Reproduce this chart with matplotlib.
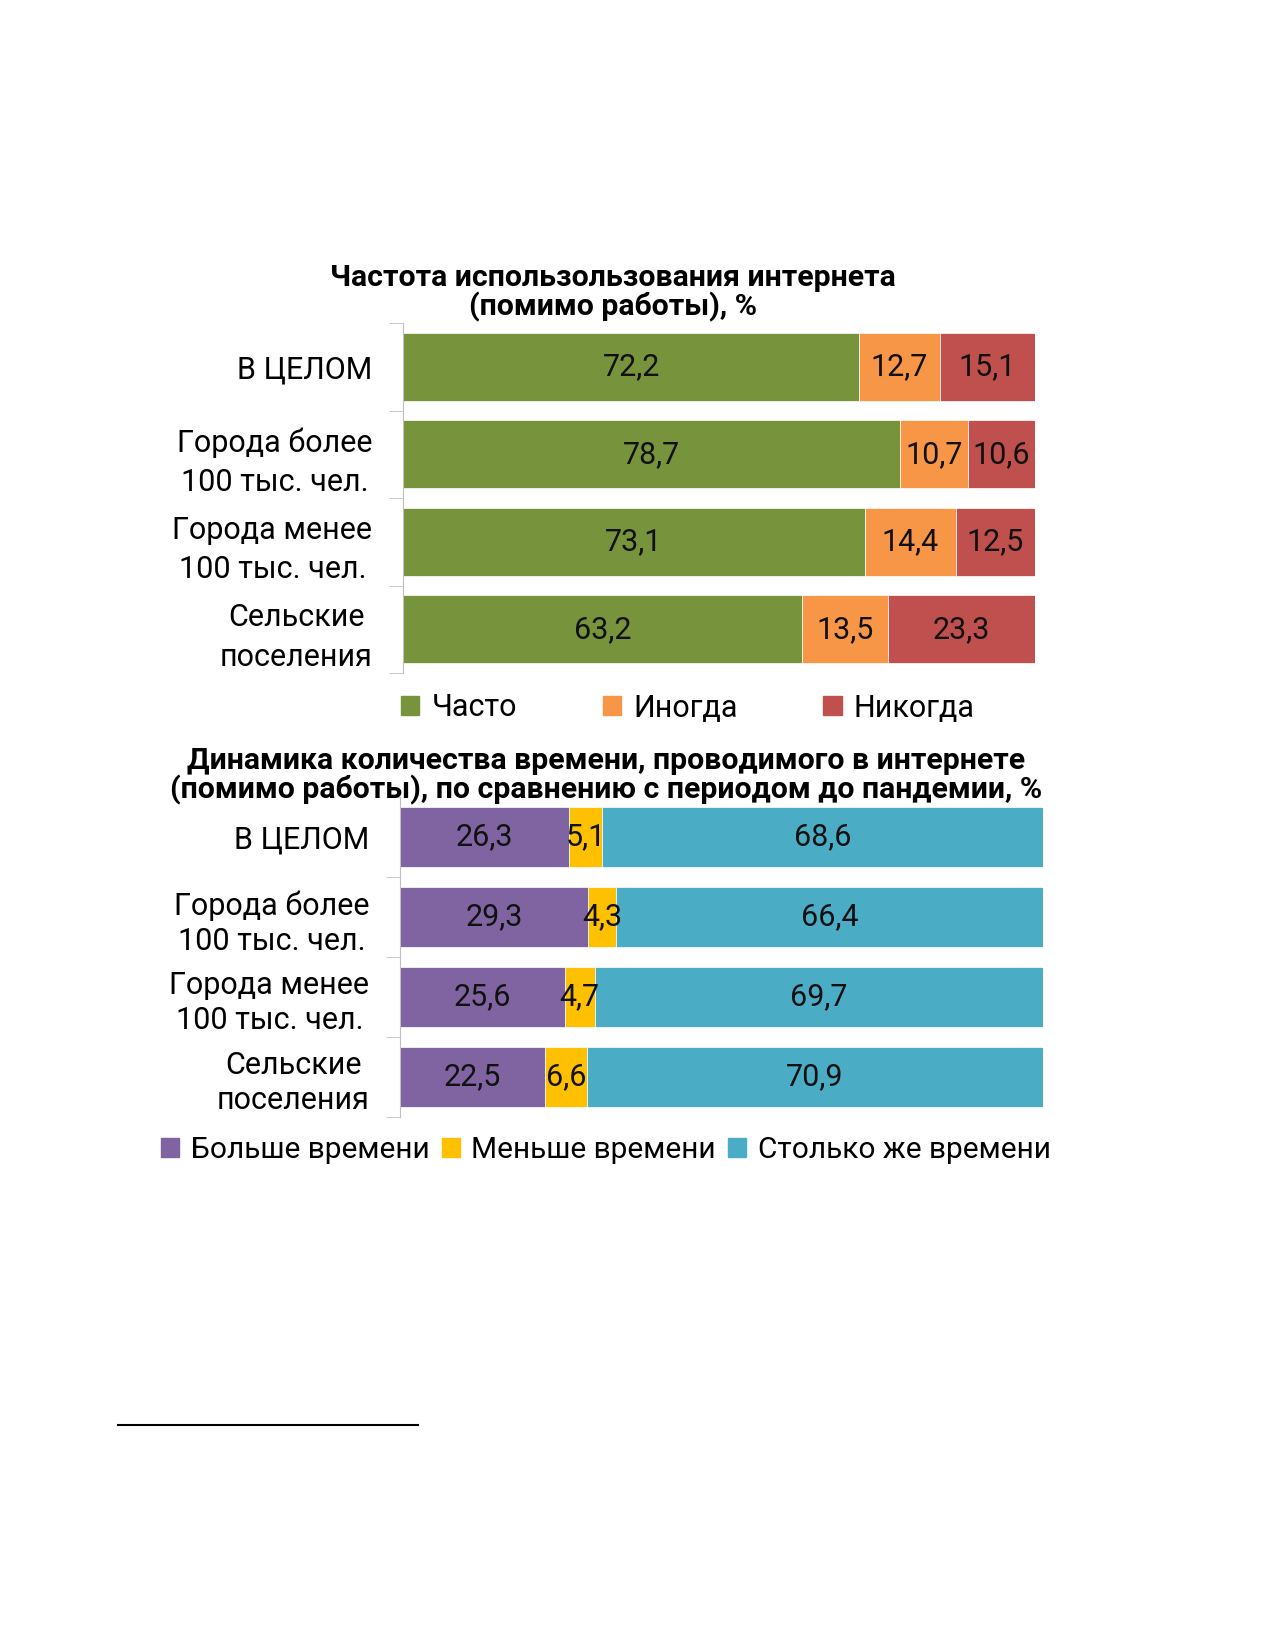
import numpy as np
import matplotlib
matplotlib.use("Agg")
import matplotlib.pyplot as plt
from matplotlib.patches import Patch
from matplotlib.ticker import FixedLocator
from matplotlib.transforms import ScaledTranslation

plt.rcParams['font.family'] = ['Roboto', 'DejaVu Sans']

# --- data ---
categories = ["В ЦЕЛОМ", "Города более\n100 тыс. чел.", "Города менее\n100 тыс. чел.", "Сельские\nпоселения"]

freq_names = ["Часто", "Иногда", "Никогда"]
freq_often = [72.2, 78.7, 73.1, 63.2]
freq_sometimes = [12.7, 10.7, 14.4, 13.5]
freq_never = [15.1, 10.6, 12.5, 23.3]
freq_colors = ["#77933C", "#F79646", "#C0504D"]

dyn_names = ["Больше времени", "Меньше времени", "Столько же времени"]
dyn_more = [26.3, 29.3, 25.6, 22.5]
dyn_less = [5.1, 4.3, 4.7, 6.6]
dyn_same = [68.6, 66.4, 69.7, 70.9]
dyn_colors = ["#8064A2", "#FFC000", "#4BACC6"]

W, H = 1275, 1650
fig = plt.figure(figsize=(W / 100, H / 100), dpi=100)


def px_axes(left, top, right, bottom):
    return fig.add_axes([left / W, 1 - bottom / H, (right - left) / W, (bottom - top) / H])


def stacked(ax, series, colors, bar_h, lsp):
    y = np.arange(len(categories))
    left = np.zeros(len(categories))
    for vals, c in zip(series, colors):
        vals = np.array(vals)
        bars = ax.barh(y, vals, left=left, height=bar_h, color=c, edgecolor="white", linewidth=0.5)
        ax.bar_label(bars, labels=[f"{v:.1f}".replace(".", ",") for v in vals],
                     label_type="center", fontsize=22, color="#111111")
        left += vals
    ax.set_xlim(0, 100)
    ax.set_ylim(len(categories) - 0.5, -0.5)
    ax.set_yticks(y)
    ax.set_yticklabels(categories, fontsize=22, linespacing=lsp)
    # nudge labels up a little so two-line labels sit centred on the bars
    shift = ScaledTranslation(0, 4 / 100, fig.dpi_scale_trans)
    for t in ax.get_yticklabels():
        t.set_multialignment("center")
        t.set_transform(t.get_transform() + shift)
    ax.yaxis.set_minor_locator(FixedLocator(np.arange(-0.5, len(categories), 1.0)))
    ax.tick_params(axis="y", which="major", length=0, pad=22)
    ax.tick_params(axis="y", which="minor", length=10, color="#BFBFBF")
    ax.set_xticks([])
    for s in ["top", "right", "bottom"]:
        ax.spines[s].set_visible(False)
    ax.spines["left"].set_color("#BFBFBF")


# chart 1
ax1 = px_axes(403, 323, 1035, 673)
stacked(ax1, [freq_often, freq_sometimes, freq_never], freq_colors, 0.78, 1.45)
fig.text(613 / W, 1 - 293 / H, "Частота использользования интернета\n(помимо работы), %",
         ha="center", va="center", fontsize=21.8, fontweight="bold", linespacing=1.02)
handles1 = [Patch(color=c, label=n) for n, c in zip(freq_names, freq_colors)]
fig.legend(handles=handles1, loc="center", bbox_to_anchor=(688 / W, 1 - 708 / H), ncol=3,
           frameon=False, fontsize=22, handlelength=0.6, handleheight=0.6,
           handletextpad=0.4, columnspacing=2.8)

# chart 2
ax2 = px_axes(400, 797, 1043, 1117)
stacked(ax2, [dyn_more, dyn_less, dyn_same], dyn_colors, 0.75, 1.25)
fig.text(606 / W, 1 - 776 / H,
         "Динамика количества времени, проводимого в интернете\n"
         "(помимо работы), по сравнению с периодом до пандемии, %",
         ha="center", va="center", fontsize=21.8, fontweight="bold", linespacing=1.0)
handles2 = [Patch(color=c, label=n) for n, c in zip(dyn_names, dyn_colors)]
fig.legend(handles=handles2, loc="center", bbox_to_anchor=(606 / W, 1 - 1150 / H), ncol=3,
           frameon=False, fontsize=21.5, handlelength=0.6, handleheight=0.6,
           handletextpad=0.4, columnspacing=0.4)

# footnote separator
fig.add_artist(plt.Line2D([118 / W, 418 / W], [1 - 1425 / H, 1 - 1425 / H],
                          color="black", linewidth=1.5))

fig.savefig("out.png", dpi=100)
